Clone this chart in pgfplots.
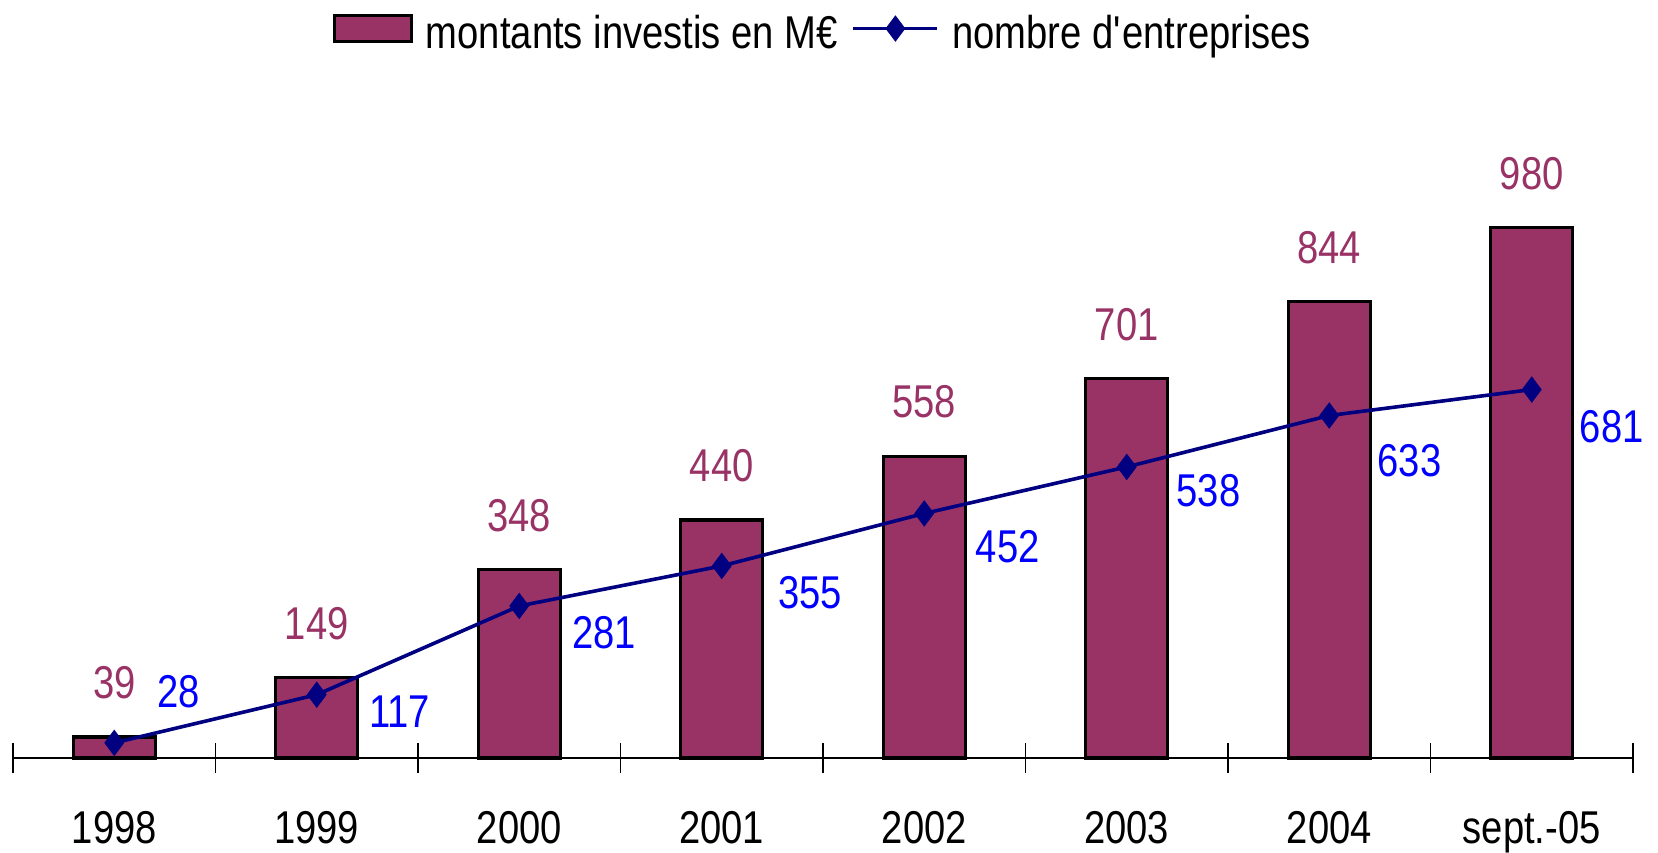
\documentclass[border=0pt]{standalone}
\usepackage{pgfplots}
\pgfplotsset{compat=1.18}
\usepackage{fontspec}
\setmainfont{Liberation Sans}[FakeStretch=0.83]
\definecolor{barc}{HTML}{993366}
\definecolor{linec}{HTML}{000080}
\definecolor{lblue}{HTML}{0000FF}
\pgfplotsset{
  barlegend/.style={legend image code/.code={\draw[##1,/tikz/.cd,yshift=0.5ex] (0.8pt,-6.5pt) rectangle (39.2pt,6.5pt);}},
  linelegend/.style={legend image code/.code={\draw[mark repeat=2,mark phase=2,##1,/tikz/.cd,yshift=0.5ex] plot coordinates {(0pt,0pt) (21pt,0pt) (42pt,0pt)};}},
}
\begin{document}
\begin{tikzpicture}
\begin{axis}[
  scale only axis,
  width=810pt, height=379pt,
  xmin=-0.5, xmax=7.5, ymin=0, ymax=1401,
  axis x line*=bottom, axis y line=none,
  axis line style={black, line width=0.7pt},
  clip=false,
  font=\fontsize{23}{27}\selectfont,
  /pgf/number format/assume math mode=true,
  xtick={0,...,7},
  xticklabels={1998,1999,2000,2001,2002,2003,2004,sept.-05},
  major tick length=0pt,
  xticklabel style={font=\fontsize{23}{27}\selectfont, anchor=base, yshift=-42.5pt},
  extra x ticks={-0.5,0.5,...,7.5},
  extra x tick labels={},
  extra x tick style={tick align=center, major tick length=15pt, tick style={black, line width=0.6pt}},
  legend style={at={(0.1975,0.9565)}, anchor=west, draw=none, fill=none,
    inner sep=0pt, outer sep=0pt, legend columns=-1,
    font=\fontsize{23}{27}\selectfont,
    nodes={inner sep=0pt},
    /tikz/every odd column/.append style={column sep=6.5pt},
    /tikz/every even column/.append style={column sep=7pt}},
]
\addplot[ybar, bar width=40.9pt, bar shift=0pt, fill=barc, draw=black, line width=1.6pt,
  nodes near coords, nodes near coords style={anchor=center, yshift=27pt, text=barc, font=\fontsize{23}{27}\selectfont},
  barlegend]
  coordinates {(0,39) (1,149) (2,348) (3,440) (4,558) (5,701) (6,844) (7,980)};
\addlegendentry{montants investis en M€}
\addplot[color=linec, line width=1.8pt, mark=diamond*, mark size=6.3pt,
  mark options={solid, fill=linec, line width=0.4pt},
  visualization depends on={\thisrow{dx} \as \dx},
  visualization depends on={\thisrow{dy} \as \dy},
  nodes near coords, nodes near coords style={anchor=center, xshift=\dx pt, yshift=\dy pt, text=lblue, font=\fontsize{23}{27}\selectfont},
  linelegend]
  table {
x y dx dy
0 28 32.2 25.6
1 117 41.5 -8.5
2 281 42.3 -13.2
3 355 44.1 -13.6
4 452 41.7 -16.6
5 538 40.9 -11.8
6 633 40.1 -22.7
7 681 40 -18.5
};
\addlegendentry{nombre d\textquotesingle entreprises}
\end{axis}
\pgfresetboundingbox
\path ([xshift=-6.5pt,yshift=-47pt]current axis.south west) rectangle ([xshift=12.5pt]current axis.north east);
\end{tikzpicture}
\end{document}
